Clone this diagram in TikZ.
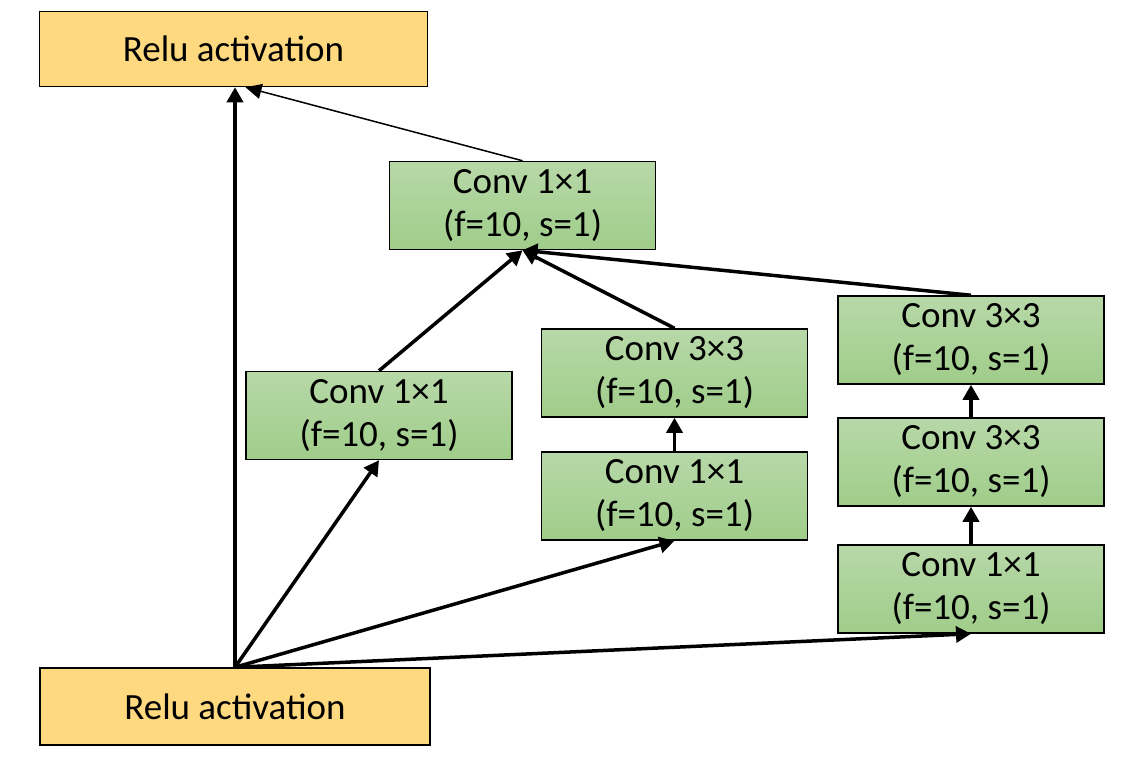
\documentclass[tikz,border=0pt]{standalone}
\usepackage{fontspec}
\setmainfont{Carlito}
\usetikzlibrary{arrows.meta}
\definecolor{reluc}{HTML}{FFD97F}
\definecolor{gtop}{HTML}{B7D8A8}
\definecolor{gbot}{HTML}{A0CD8A}
\tikzset{
  relubox/.style={draw=black, line width=1.5pt, fill=reluc, minimum width=388pt, minimum height=75pt, inner sep=0pt, font=\fontsize{37}{44}\selectfont},
  convbox/.style={draw=black, line width=1.5pt, top color=gtop, bottom color=gbot, minimum width=266pt, minimum height=88pt, inner sep=0pt, align=center, font=\fontsize{37}{43}\selectfont},
  thickarr/.style={line width=3.5pt, -{Triangle[length=15pt,width=16pt]}},
  thinarr/.style={line width=1.5pt, -{Triangle[length=16pt,width=15pt]}}
}
\begin{document}
\begin{tikzpicture}[x=1pt,y=-1pt]
\useasboundingbox (0,0) rectangle (1127,763);
\node[relubox] (rtop) at (233.5,49) {Relu activation};
\node[relubox, minimum height=77pt, minimum width=390pt] (rbot) at (235,706.5) {Relu activation};
\node[convbox] (c0) at (522.5,205.5) {Conv 1×1\\(f=10, s=1)};
\node[convbox] (cl) at (379,415.5) {Conv 1×1\\(f=10, s=1)};
\node[convbox] (cm2) at (674.5,373) {Conv 3×3\\(f=10, s=1)};
\node[convbox] (cm1) at (674.5,496) {Conv 1×1\\(f=10, s=1)};
\node[convbox] (cr3) at (971,340) {Conv 3×3\\(f=10, s=1)};
\node[convbox] (cr2) at (971,462) {Conv 3×3\\(f=10, s=1)};
\node[convbox] (cr1) at (971,589) {Conv 1×1\\(f=10, s=1)};
\coordinate (rt) at ([xshift=12pt]rtop.south);
\draw[thickarr] (rbot.north) -- (rbot.north |- rtop.south);
\draw[thickarr] (rbot.north) -- (cl.south);
\draw[thickarr] (rbot.north) -- (cm1.south);
\draw[thickarr] (rbot.north) -- (cr1.south);
\draw[thickarr] (cm1.north) -- (cm2.south);
\draw[thickarr] (cr1.north) -- (cr2.south);
\draw[thickarr] (cr2.north) -- (cr3.south);
\draw[thickarr] (cl.north) -- (c0.south);
\draw[thickarr] (cm2.north) -- (c0.south);
\draw[thickarr] (cr3.north) -- (c0.south);
\draw[thinarr] (c0.north) -- (rt);
\end{tikzpicture}
\end{document}
